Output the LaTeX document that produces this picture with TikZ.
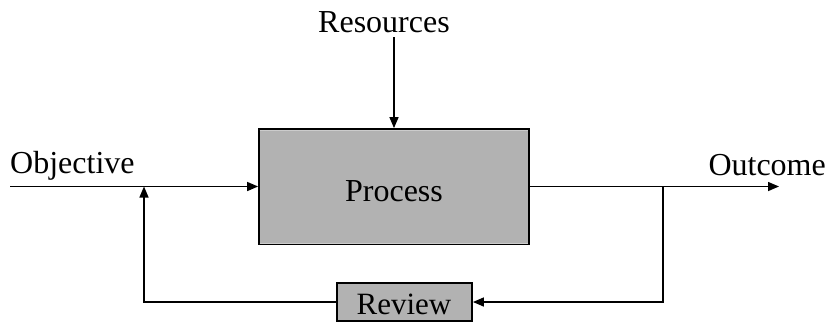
\documentclass[tikz,border=0pt]{standalone}
\usepackage{fontspec}
\setmainfont{Liberation Serif}
\usetikzlibrary{arrows.meta}
\begin{document}
\begin{tikzpicture}[x=1pt,y=-1pt,
  conn/.style={line width=1.5pt,-{Triangle[length=11pt,width=9pt]}},
  graybox/.style={draw=black,line width=1.8pt,fill=boxgray,inner sep=0pt},
  lbl/.style={font=\fontsize{32}{36}\selectfont,inner sep=0pt}]
\definecolor{boxgray}{RGB}{178,178,178}
\useasboundingbox (0,0) rectangle (829,322);
\clip (0,0) rectangle (829,322);
\node[graybox,minimum width=270pt,minimum height=115pt] (proc) at (394,186.5) {};
\node[lbl,anchor=base] (proctext) at (394,201) {Process};
\draw[gray!40,line width=0.8pt] ([shift={(1.5,2)}]proc.north west) -- ([shift={(-1.5,2)}]proc.north east);
\draw[gray!40,line width=0.8pt] ([shift={(1.5,-2)}]proc.south west) -- ([shift={(-1.5,-2)}]proc.south east);
\node[graybox,minimum width=135pt,minimum height=38pt] (rev) at (404.5,302) {};
\node[lbl,anchor=base,font=\fontsize{31}{34}\selectfont] (revtext) at (404,314) {Review};
\node[lbl,anchor=base west] (obj) at (10,173) {Objective};
\node[lbl,anchor=base east] (out) at (826,175) {Outcome};
\node[lbl,anchor=base] (res) at (384,32) {Resources};
\coordinate (objstart) at (10,186.5);
\coordinate (outend) at (779,186.5);
\coordinate (resstart) at (394,37);
\coordinate (split) at (663,186.5);
\coordinate (fbtip) at (144,186.5);
\draw[conn] (objstart) -- (proc.west);
\draw[conn] (proc.east) -- (outend);
\draw[conn] (resstart) -- (proc.north);
\draw[conn] (split) |- (rev.east);
\draw[conn] (rev.west) -| (fbtip);
\end{tikzpicture}
\end{document}
